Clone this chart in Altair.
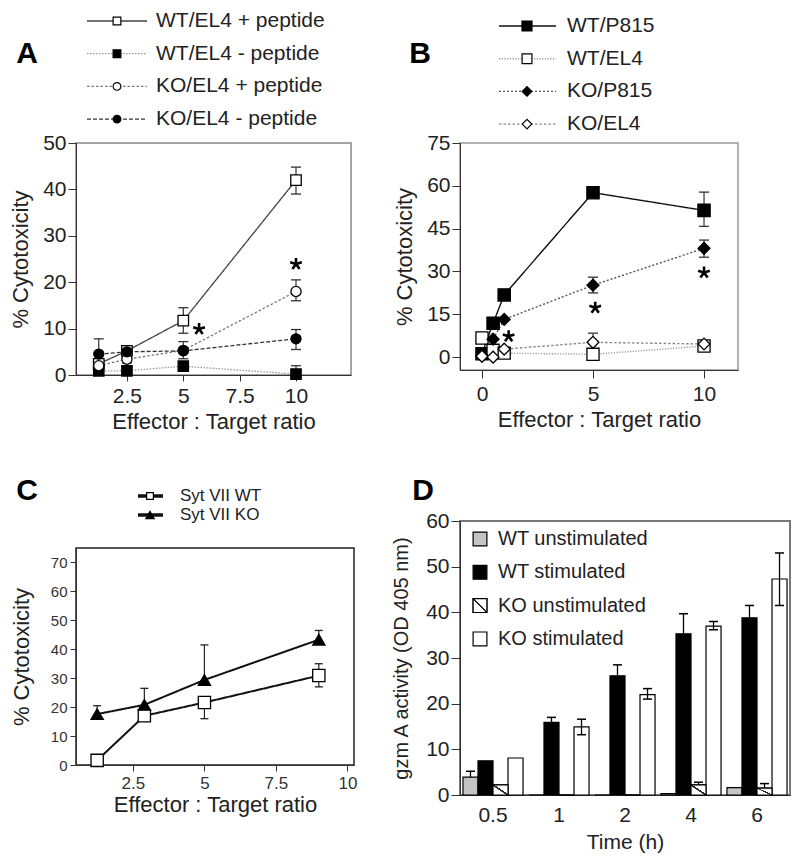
import altair as alt
import pandas as pd

FONT = "Liberation Sans"
STAR = "M0,-1L0,0M0.95,-0.31L0,0M0.59,0.81L0,0M-0.59,0.81L0,0M-0.95,-0.31L0,0"

# ---------------- Panel A ----------------
A_series = ["WT/EL4 + peptide", "WT/EL4 - peptide", "KO/EL4 + peptide", "KO/EL4 - peptide"]
A_x = [1.25, 2.5, 5, 10]
A_wt_pos = [2.4, 5.2, 11.7, 42.0]
A_wt_pos_lo = [None, 2.6, 9.0, 39.0]
A_wt_pos_hi = [None, 6.2, 14.5, 44.8]
A_wt_neg = [0.9, 0.9, 1.9, 0.2]
A_wt_neg_lo = [None, None, None, None]
A_wt_neg_hi = [None, None, None, 2.0]
A_ko_pos = [2.0, 3.4, 5.3, 18.0]
A_ko_pos_lo = [None, None, 3.5, 16.0]
A_ko_pos_hi = [None, None, 7.2, 20.5]
A_ko_neg = [4.5, 5.0, 5.2, 7.8]
A_ko_neg_lo = [None, None, None, 5.5]
A_ko_neg_hi = [7.8, None, None, 9.8]
A_star_x = [5.7, 10.0]
A_star_y = [9.9, 23.9]
A_yticks = [0, 10, 20, 30, 40, 50]
A_xticks = [2.5, 5, 7.5, 10]

# ---------------- Panel B ----------------
B_series = ["WT/P815", "WT/EL4", "KO/P815", "KO/EL4"]
B_x = [0, 0.5, 1, 5, 10]
B_wt_p815 = [1.2, 11.9, 21.8, 57.6, 51.4]
B_wt_p815_lo = [None, None, None, None, 45.8]
B_wt_p815_hi = [None, None, None, None, 57.8]
B_wt_el4 = [6.7, 2.4, 1.4, 1.0, 3.9]
B_wt_el4_lo = [None, None, None, None, None]
B_wt_el4_hi = [None, None, None, None, None]
B_ko_p815 = [0.6, 6.3, 13.2, 25.2, 38.1]
B_ko_p815_lo = [None, None, None, 22.5, 35.0]
B_ko_p815_hi = [None, None, None, 28.0, 41.0]
B_ko_el4 = [0.3, 0.0, 2.8, 5.2, 4.6]
B_ko_el4_lo = [None, None, None, None, None]
B_ko_el4_hi = [None, None, None, 8.4, None]
B_star_x = [1.2, 5.1, 10.0]
B_star_y = [7.3, 17.3, 29.6]
B_yticks = [0, 15, 30, 45, 60, 75]
B_xticks = [0, 5, 10]

# ---------------- Panel C ----------------
C_series = ["Syt VII WT", "Syt VII KO"]
C_x = [1.25, 2.9, 5, 9.0]
C_wt = [1.6, 17.0, 21.6, 30.9]
C_wt_lo = [None, None, 16.0, 27.0]
C_wt_hi = [None, None, None, 35.0]
C_ko = [17.6, 20.8, 29.4, 43.3]
C_ko_lo = [None, None, None, 42.0]
C_ko_hi = [20.5, 26.5, 41.5, 46.5]
C_yticks = [0, 10, 20, 30, 40, 50, 60, 70]
C_xticks = [2.5, 5, 7.5, 10]

# ---------------- Panel D ----------------
D_times = ["0.5", "1", "2", "4", "6"]
D_series = ["WT unstimulated", "WT stimulated", "KO unstimulated", "KO stimulated"]
D_wt_uns = [3.9, 0, 0, 0.3, 1.6]
D_wt_uns_lo = [None, None, None, None, None]
D_wt_uns_hi = [5.2, None, None, None, None]
D_wt_sti = [7.5, 15.9, 26.1, 35.3, 38.8]
D_wt_sti_lo = [None, None, None, None, None]
D_wt_sti_hi = [None, 17.0, 28.5, 39.7, 41.5]
D_ko_uns = [2.2, 0, 0, 2.2, 1.5]
D_ko_uns_lo = [None, None, None, None, None]
D_ko_uns_hi = [None, None, None, 2.8, 2.5]
D_ko_sti = [8.1, 14.9, 22.0, 37.0, 47.3]
D_ko_sti_lo = [None, 13.2, 21.0, 36.2, 41.5]
D_ko_sti_hi = [None, 16.6, 23.3, 38.0, 53.0]
D_yticks = [0, 10, 20, 30, 40, 50, 60]


def series_frame(names, xs, ys, los, his):
    rows = []
    for name, yv, lv, hv in zip(names, ys, los, his):
        for xi, yi, li, hi in zip(xs, yv, lv, hv):
            rows.append({"s": name, "x": xi, "y": yi,
                         "lo": yi if li is None else li,
                         "hi": yi if hi is None else hi,
                         "err": (li is not None) or (hi is not None)})
    return pd.DataFrame(rows)


def caps_frame(names, xs, los, his):
    rows = []
    for name, lv, hv in zip(names, los, his):
        for xi, li, hi in zip(xs, lv, hv):
            for v in (li, hi):
                if v is not None:
                    rows.append({"s": name, "x": xi, "v": v})
    return pd.DataFrame(rows)


def style_encodings(st, sizes_key="sizes"):
    names = st["names"]
    color = alt.Color("s:N", scale=alt.Scale(domain=names, range=st["colors"]), legend=None)
    dash = alt.StrokeDash("s:N", scale=alt.Scale(domain=names, range=st["dashes"]), legend=None)
    shape = alt.Shape("s:N", scale=alt.Scale(domain=names, range=st["shapes"]), legend=None)
    fill = alt.Fill("s:N", scale=alt.Scale(domain=names, range=st["fills"]), legend=None)
    size = alt.Size("s:N", scale=alt.Scale(domain=names, range=st[sizes_key]), legend=None)
    return color, dash, shape, fill, size


def line_panel(df, caps, stars, st, xdom, ydom, w, h, xaxis, yaxis, cap_size, err_color,
               lw, view_stroke, view_sw):
    sx = alt.Scale(domain=xdom, nice=False, zero=False)
    sy = alt.Scale(domain=ydom, nice=False, zero=False)

    def X(f):
        return alt.X(f, type="quantitative", scale=sx, axis=xaxis)

    def Y(f):
        return alt.Y(f, type="quantitative", scale=sy, axis=yaxis)

    color, dash, shape, fill, size = style_encodings(st)
    lines = alt.Chart(df).mark_line(strokeWidth=lw).encode(
        x=X("x"), y=Y("y"), color=color, strokeDash=dash)
    rules = alt.Chart(df).transform_filter("datum.err").mark_rule(
        color=err_color, strokeWidth=1.2).encode(x=X("x"), y=Y("lo"), y2="hi")
    capm = alt.Chart(caps).mark_tick(orient="horizontal", size=cap_size, thickness=1.3,
                                     color=err_color, opacity=1).encode(x=X("x"), y=Y("v"))
    pts = alt.Chart(df).mark_point(filled=True, opacity=1, stroke="black", strokeWidth=1.3).encode(
        x=X("x"), y=Y("y"), shape=shape, fill=fill, size=size)
    layers = [lines, rules, capm, pts]
    if stars is not None:
        star = alt.Chart(stars).mark_point(shape=STAR, size=150, strokeWidth=2.6, color="black",
                                           filled=False, opacity=1).encode(x=X("x"), y=Y("y"))
        layers.append(star)
    return alt.layer(*layers).properties(
        width=w, height=h, view=alt.ViewBackground(stroke=view_stroke, strokeWidth=view_sw))


def legend_chart(st, y0, dy, x_line, x_mark, x_text, w, h, fs, letter, lx, ly, lw):
    names = st["names"]
    d = pd.DataFrame({"s": names, "i": list(range(len(names)))})
    base = alt.Chart(d).transform_calculate(py=f"{y0} + {dy} * datum.i")
    Y = alt.Y("py:Q", scale=None)
    color, dash, shape, fill, size = style_encodings(st, "lsizes")
    rule = base.mark_rule(strokeWidth=lw).encode(
        x=alt.value(x_line[0]), x2=alt.value(x_line[1]), y=Y, color=color, strokeDash=dash)
    pts = base.mark_point(filled=True, opacity=1, stroke="black", strokeWidth=1.2).encode(
        x=alt.value(x_mark), y=Y, shape=shape, fill=fill, size=size)
    txt = base.mark_text(align="left", baseline="middle", fontSize=fs, font=FONT,
                         color="#222").encode(x=alt.value(x_text), y=Y, text="s:N")
    let = alt.Chart(pd.DataFrame({"t": [letter]})).mark_text(
        fontSize=30, fontWeight="bold", font=FONT, color="black", align="center",
        baseline="middle").encode(x=alt.value(lx), y=alt.value(ly), text="t:N")
    return alt.layer(rule, pts, txt, let).properties(
        width=w, height=h, view=alt.ViewBackground(stroke="transparent"))


def lab_expr():
    return "'' + datum.value"


# ---------- styles ----------
stA = {"names": A_series,
       "colors": ["#444", "#999", "#777", "#333"],
       "dashes": [[1, 0], [1.5, 1.5], [2.5, 2], [4, 2]],
       "shapes": ["square", "square", "circle", "circle"],
       "fills": ["white", "black", "white", "black"],
       "sizes": [110, 100, 75, 75],
       "lsizes": [60, 60, 45, 45]}
stB = {"names": B_series,
       "colors": ["#111", "#999", "#555", "#888"],
       "dashes": [[1, 0], [1.2, 1.5], [2, 2], [2.5, 2]],
       "shapes": ["square", "square", "diamond", "diamond"],
       "fills": ["black", "white", "black", "white"],
       "sizes": [150, 140, 110, 110],
       "lsizes": [100, 90, 80, 80]}
stC = {"names": C_series,
       "colors": ["#111", "#111"],
       "dashes": [[1, 0], [1, 0]],
       "shapes": ["square", "triangle-up"],
       "fills": ["white", "black"],
       "sizes": [150, 150],
       "lsizes": [45, 70]}

# ---------- Panel A ----------
dfA = series_frame(A_series, A_x, [A_wt_pos, A_wt_neg, A_ko_pos, A_ko_neg],
                   [A_wt_pos_lo, A_wt_neg_lo, A_ko_pos_lo, A_ko_neg_lo],
                   [A_wt_pos_hi, A_wt_neg_hi, A_ko_pos_hi, A_ko_neg_hi])
capsA = caps_frame(A_series, A_x, [A_wt_pos_lo, A_wt_neg_lo, A_ko_pos_lo, A_ko_neg_lo],
                   [A_wt_pos_hi, A_wt_neg_hi, A_ko_pos_hi, A_ko_neg_hi])
starsA = pd.DataFrame({"x": A_star_x, "y": A_star_y})
axA_x = alt.Axis(values=A_xticks, labelExpr=lab_expr(), title="Effector : Target ratio",
                 labelFontSize=21, titleFontSize=22, tickSize=6, labelPadding=4, titlePadding=5)
axA_y = alt.Axis(values=A_yticks, title="% Cytotoxicity", labelFontSize=21, titleFontSize=22,
                 tickSize=8, labelPadding=2, titlePadding=10)
panelA = line_panel(dfA, capsA, starsA, stA, [0.24, 12.44], [0, 50], 275, 232, axA_x, axA_y,
                    10, "#333", 1.3, "#888", 1.5)
legA = legend_chart(stA, 12, 32.7, (11, 71), 41, 80, 275, 114, 21, "A", -49, 45, 1.3)

# ---------- Panel B ----------
dfB = series_frame(B_series, B_x, [B_wt_p815, B_wt_el4, B_ko_p815, B_ko_el4],
                   [B_wt_p815_lo, B_wt_el4_lo, B_ko_p815_lo, B_ko_el4_lo],
                   [B_wt_p815_hi, B_wt_el4_hi, B_ko_p815_hi, B_ko_el4_hi])
capsB = caps_frame(B_series, B_x, [B_wt_p815_lo, B_wt_el4_lo, B_ko_p815_lo, B_ko_el4_lo],
                   [B_wt_p815_hi, B_wt_el4_hi, B_ko_p815_hi, B_ko_el4_hi])
starsB = pd.DataFrame({"x": B_star_x, "y": B_star_y})
axB_x = alt.Axis(values=B_xticks, labelExpr=lab_expr(), title="Effector : Target ratio",
                 labelFontSize=21, titleFontSize=22, tickSize=8, labelPadding=5, titlePadding=5)
axB_y = alt.Axis(values=B_yticks, title="% Cytotoxicity", labelFontSize=21, titleFontSize=22,
                 tickSize=8, labelPadding=2, titlePadding=10)
panelB = line_panel(dfB, capsB, starsB, stB, [-0.99, 11.53], [-4.5, 75], 278, 227, axB_x, axB_y,
                    10, "#333", 1.4, "#999", 1.5)
legB = legend_chart(stB, 17, 32.7, (39, 96), 67, 107, 278, 114, 21, "B", -40, 45, 1.4)

# ---------- Panel C ----------
dfC = series_frame(C_series, C_x, [C_wt, C_ko], [C_wt_lo, C_ko_lo], [C_wt_hi, C_ko_hi])
capsC = caps_frame(C_series, C_x, [C_wt_lo, C_ko_lo], [C_wt_hi, C_ko_hi])
axC_x = alt.Axis(values=C_xticks, labelExpr=lab_expr(), title="Effector : Target ratio",
                 labelFontSize=17, titleFontSize=22, tickSize=6, labelPadding=4, titlePadding=3,
                 labelColor="#333")
axC_y = alt.Axis(values=C_yticks, title="% Cytotoxicity", labelFontSize=15, titleFontSize=22,
                 tickSize=6, labelPadding=3, titlePadding=17, labelColor="#333")
panelC = line_panel(dfC, capsC, None, stC, [0.51, 10.23], [0, 75], 278, 217, axC_x, axC_y,
                    8, "#222", 2.0, "#222", 1.5)
legC = legend_chart(stC, 101, 19, (62, 87), 74, 104, 278, 133, 17, "C", -49, 96, 3.5)

# ---------- Panel D ----------
dfD = series_frame(D_series, D_times, [D_wt_uns, D_wt_sti, D_ko_uns, D_ko_sti],
                   [D_wt_uns_lo, D_wt_sti_lo, D_ko_uns_lo, D_ko_sti_lo],
                   [D_wt_uns_hi, D_wt_sti_hi, D_ko_uns_hi, D_ko_sti_hi]).rename(columns={"x": "t"})
capsD = caps_frame(D_series, D_times, [D_wt_uns_lo, D_wt_sti_lo, D_ko_uns_lo, D_ko_sti_lo],
                   [D_wt_uns_hi, D_wt_sti_hi, D_ko_uns_hi, D_ko_sti_hi]).rename(columns={"x": "t"})

axD_x = alt.Axis(title="Time (h)", labelAngle=0, ticks=False, labelFontSize=21, titleFontSize=21,
                 labelPadding=9, titlePadding=6)
axD_y = alt.Axis(values=D_yticks, title="gzm A activity (OD 405 nm)", labelFontSize=21,
                 titleFontSize=20, tickSize=9, labelPadding=2, titlePadding=14)
xD = alt.X("t:N", scale=alt.Scale(domain=D_times, paddingInner=0.09, paddingOuter=0.045), axis=axD_x)
xoD = alt.XOffset("s:N", scale=alt.Scale(domain=D_series, paddingInner=0, paddingOuter=0))
syD = alt.Scale(domain=[0, 60], nice=False)


def YD(f):
    return alt.Y(f, type="quantitative", scale=syD, axis=axD_y)


fillD = alt.Fill("s:N", scale=alt.Scale(domain=D_series, range=["#c4c4c4", "black", "white", "white"]),
                 legend=None)
hatch = alt.LinearGradient(
    gradient="linear", x1=0, y1=1, x2=1, y2=0,
    stops=[alt.GradientStop(color="white", offset=0), alt.GradientStop(color="white", offset=0.45),
           alt.GradientStop(color="#222", offset=0.46), alt.GradientStop(color="#222", offset=0.54),
           alt.GradientStop(color="white", offset=0.55), alt.GradientStop(color="white", offset=1)])

barsD = alt.Chart(dfD).mark_bar(stroke="black", strokeWidth=1.2).encode(
    x=xD, xOffset=xoD, y=YD("y"), fill=fillD)
hatchD = alt.Chart(dfD).transform_filter(alt.datum.s == "KO unstimulated").mark_bar(
    stroke="black", strokeWidth=1.2, fill=hatch).encode(x=xD, xOffset=xoD, y=YD("y"))
rulesD = alt.Chart(dfD).transform_filter("datum.err").mark_rule(color="black", strokeWidth=1.3).encode(
    x=xD, xOffset=xoD, y=YD("lo"), y2="hi")
capsDm = alt.Chart(capsD).mark_tick(orient="horizontal", size=9, thickness=1.5, color="black",
                                    opacity=1).encode(x=xD, xOffset=xoD, y=YD("v"))
legDd = alt.Chart(pd.DataFrame({"s": D_series, "i": list(range(4))})).transform_calculate(
    py="18 + 33.3 * datum.i")
patchD = legDd.mark_point(shape="square", filled=True, size=190, stroke="black", strokeWidth=1.2,
                          opacity=1).encode(x=alt.value(20), y=alt.Y("py:Q", scale=None), fill=fillD)
patchH = legDd.transform_filter(alt.datum.s == "KO unstimulated").mark_point(
    shape="square", size=190, stroke="black", strokeWidth=1.2, opacity=1, fill=hatch,
    filled=True).encode(x=alt.value(20), y=alt.Y("py:Q", scale=None))
textD = legDd.mark_text(align="left", baseline="middle", fontSize=20, font=FONT, color="#222").encode(
    x=alt.value(38), y=alt.Y("py:Q", scale=None), text="s:N")
panelD = alt.layer(barsD, hatchD, rulesD, capsDm, patchD, patchH, textD).properties(
    width=330, height=274, view=alt.ViewBackground(stroke="#777", strokeWidth=2))
legD = alt.Chart(pd.DataFrame({"t": ["D"]})).mark_text(
    fontSize=30, fontWeight="bold", font=FONT, color="black", align="center",
    baseline="middle").encode(x=alt.value(-37), y=alt.value(101), text="t:N").properties(
    width=330, height=111, view=alt.ViewBackground(stroke="transparent"))

indep = dict(color="independent", fill="independent", shape="independent",
             size="independent", strokeDash="independent")

left = alt.vconcat(legA, panelA, legC, panelC, spacing=20, bounds="flush").resolve_scale(**indep)
right = alt.vconcat(legB, panelB, legD, panelD, spacing=20, bounds="flush").resolve_scale(**indep)
chart = alt.hconcat(left, right, spacing=384, bounds="flush").resolve_scale(**indep).properties(
    padding=0
).configure_axis(
    labelFont=FONT, titleFont=FONT, titleFontWeight="normal", grid=False, labelColor="#222",
    titleColor="#222", domainColor="#333", tickColor="#333", labelFlush=False
).configure_text(font=FONT)

chart.save("out.html", embed_options={"renderer": "svg", "actions": False})
